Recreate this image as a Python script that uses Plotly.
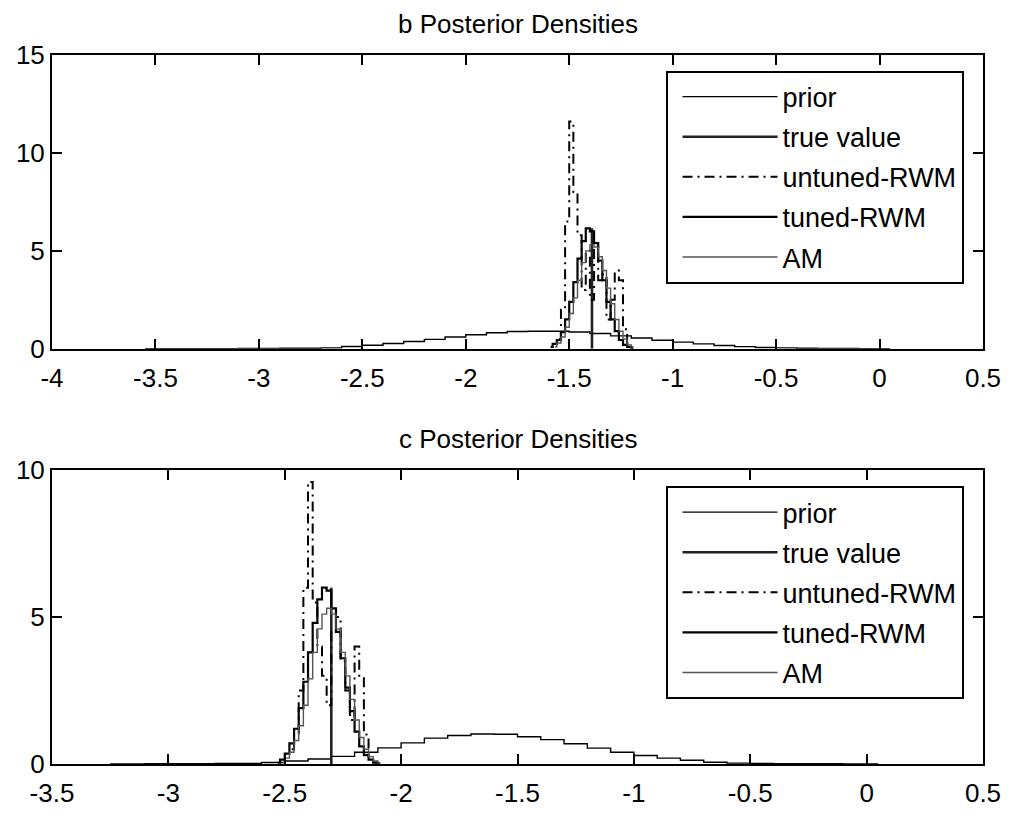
import plotly.graph_objects as go

# ---------------- data ----------------
# panel b
prior_b_x = [-3.55, -3.45, -3.35, -3.25, -3.15, -3.05, -2.95, -2.85, -2.75, -2.65,
             -2.55, -2.45, -2.35, -2.25, -2.15, -2.05, -1.95, -1.85, -1.75, -1.65,
             -1.55, -1.45, -1.35, -1.25, -1.15, -1.05, -0.95, -0.85, -0.75, -0.65,
             -0.55, -0.45, -0.35, -0.25, -0.15, -0.05, 0.05]
prior_b_y = [0.01, 0.01, 0.01, 0.01, 0.01, 0.02, 0.02, 0.03, 0.03, 0.05,
             0.12, 0.18, 0.27, 0.37, 0.48, 0.60, 0.72, 0.82, 0.88, 0.90,
             0.90, 0.86, 0.78, 0.66, 0.55, 0.44, 0.34, 0.25, 0.17, 0.11,
             0.07, 0.05, 0.03, 0.02, 0.02, 0.01, 0.01]
true_b = -1.39
true_b_height = 6.15
untuned_b_x = [-1.55, -1.53, -1.51, -1.49, -1.47, -1.45, -1.43, -1.41, -1.39,
               -1.37, -1.35, -1.33, -1.31, -1.29, -1.27, -1.25, -1.23, -1.21]
untuned_b_y = [0.5, 2.0, 6.5, 11.6, 8.0, 5.8, 3.0, 5.0, 2.5,
               5.2, 3.5, 3.8, 1.5, 2.5, 4.0, 3.5, 1.0, 0.3]
tuned_b_x = [-1.59, -1.57, -1.55, -1.53, -1.51, -1.49, -1.47, -1.45, -1.43, -1.41, -1.39,
             -1.37, -1.35, -1.33, -1.31, -1.29, -1.27, -1.25, -1.23, -1.21, -1.19]
tuned_b_y = [0.1, 0.25, 0.45, 0.85, 1.5, 2.4, 3.4, 4.6, 5.5, 6.15, 6.0,
             5.4, 4.5, 3.5, 2.4, 1.5, 0.9, 0.45, 0.2, 0.1, 0.05]
am_b_x = [-1.57, -1.55, -1.53, -1.51, -1.49, -1.47, -1.45, -1.43, -1.41, -1.39,
          -1.37, -1.35, -1.33, -1.31, -1.29, -1.27, -1.25, -1.23, -1.21, -1.19]
am_b_y = [0.1, 0.3, 0.6, 1.1, 1.8, 2.6, 3.5, 4.4, 5.0, 5.3,
          5.2, 4.7, 4.0, 3.1, 2.3, 1.5, 0.9, 0.5, 0.2, 0.1]

# panel c
prior_c_x = [-3.25, -3.15, -3.05, -2.95, -2.85, -2.75, -2.65, -2.55, -2.45, -2.35,
             -2.25, -2.15, -2.05, -1.95, -1.85, -1.75, -1.65, -1.55, -1.45, -1.35,
             -1.25, -1.15, -1.05, -0.95, -0.85, -0.75, -0.65, -0.55, -0.45, -0.35,
             -0.25, -0.15, -0.05, 0.05]
prior_c_y = [0.0, 0.0, 0.01, 0.01, 0.01, 0.02, 0.02, 0.05, 0.10, 0.17,
             0.26, 0.40, 0.55, 0.72, 0.88, 0.97, 1.02, 1.01, 0.93, 0.83,
             0.69, 0.54, 0.40, 0.29, 0.20, 0.13, 0.06, 0.03, 0.02, 0.01,
             0.01, 0.01, 0.0, 0.0]
true_c = -2.30
true_c_height = 6.0
untuned_c_x = [-2.47, -2.45, -2.43, -2.41, -2.39, -2.37, -2.35, -2.33, -2.31,
               -2.29, -2.27, -2.25, -2.23, -2.21, -2.19, -2.17, -2.15, -2.13]
untuned_c_y = [0.5, 1.0, 2.5, 6.0, 9.6, 5.5, 4.0, 3.0, 2.0,
               4.5, 5.0, 3.5, 2.5, 1.5, 4.0, 3.0, 1.0, 0.3]
tuned_c_x = [-2.53, -2.51, -2.49, -2.47, -2.45, -2.43, -2.41, -2.39, -2.37, -2.35, -2.33,
             -2.31, -2.29, -2.27, -2.25, -2.23, -2.21, -2.19, -2.17, -2.15, -2.13, -2.11, -2.09]
tuned_c_y = [0.05, 0.15, 0.35, 0.7, 1.2, 1.9, 2.8, 3.8, 4.8, 5.6, 6.0,
             5.9, 5.3, 4.5, 3.6, 2.6, 1.8, 1.1, 0.6, 0.3, 0.15, 0.05, 0.02]
am_c_x = [-2.51, -2.49, -2.47, -2.45, -2.43, -2.41, -2.39, -2.37, -2.35, -2.33, -2.31,
          -2.29, -2.27, -2.25, -2.23, -2.21, -2.19, -2.17, -2.15, -2.13, -2.11, -2.09]
am_c_y = [0.05, 0.2, 0.4, 0.8, 1.3, 2.0, 2.9, 3.8, 4.6, 5.1, 5.3,
          5.1, 4.6, 3.8, 3.0, 2.2, 1.5, 0.9, 0.5, 0.25, 0.1, 0.03]

# axes ticks
xticks_b = [-4, -3.5, -3, -2.5, -2, -1.5, -1, -0.5, 0, 0.5]
xlabels_b = ["-4", "-3.5", "-3", "-2.5", "-2", "-1.5", "-1", "-0.5", "0", "0.5"]
yticks_b = [0, 5, 10, 15]
xticks_c = [-3.5, -3, -2.5, -2, -1.5, -1, -0.5, 0, 0.5]
xlabels_c = ["-3.5", "-3", "-2.5", "-2", "-1.5", "-1", "-0.5", "0", "0.5"]
yticks_c = [0, 5, 10]
series_names = ["prior", "true value", "untuned-RWM", "tuned-RWM", "AM"]
titles = ["b Posterior Densities", "c Posterior Densities"]

FONT = "Liberation Sans, Arial, sans-serif"
FS = 26
LFS = 27

fig = go.Figure()


def add_panel(xa, ya, leg, prior_x, prior_y, tv, tvh, ux, uy, tx, ty, ax, ay):
    common = dict(xaxis=xa, yaxis=ya, legend=leg, mode="lines")
    fig.add_trace(go.Scatter(x=prior_x, y=prior_y, name=series_names[0], line_shape="hvh",
                             line=dict(color="black", width=1.4), legendgroup=leg + "a", **common))
    fig.add_trace(go.Scatter(x=[tv, tv], y=[0, tvh], name=series_names[1],
                             line=dict(color="#222222", width=2.6), legendgroup=leg + "b", **common))
    fig.add_trace(go.Scatter(x=ux, y=uy, name=series_names[2], line_shape="hvh",
                             line=dict(color="black", width=2, dash="10px,5px,2px,5px"),
                             legendgroup=leg + "c", **common))
    fig.add_trace(go.Scatter(x=tx, y=ty, name=series_names[3], line_shape="hvh",
                             line=dict(color="black", width=2.2), legendgroup=leg + "d", **common))
    fig.add_trace(go.Scatter(x=ax, y=ay, name=series_names[4], line_shape="hvh",
                             line=dict(color="#555555", width=1.4), legendgroup=leg + "e", **common))


add_panel("x", "y", "legend", prior_b_x, prior_b_y, true_b, true_b_height,
          untuned_b_x, untuned_b_y, tuned_b_x, tuned_b_y, am_b_x, am_b_y)
add_panel("x2", "y2", "legend2", prior_c_x, prior_c_y, true_c, true_c_height,
          untuned_c_x, untuned_c_y, tuned_c_x, tuned_c_y, am_c_x, am_c_y)

axis_common = dict(showline=True, linecolor="black", linewidth=2, mirror="ticks",
                   ticks="inside", ticklen=10, tickwidth=2, tickcolor="black",
                   showgrid=False, zeroline=False,
                   tickfont=dict(family=FONT, size=FS, color="black"))

top_dom = [0.5856, 1.0]
bot_dom = [0.0, 0.4144]

legend_common = dict(xanchor="left", yanchor="top", bgcolor="white",
                     bordercolor="black", borderwidth=2, itemwidth=95, tracegroupgap=2,
                     indentation=10, font=dict(family=FONT, size=LFS, color="black"))

fig.update_layout(
    width=1013, height=820,
    margin=dict(l=52, r=25, t=55, b=41),
    paper_bgcolor="white", plot_bgcolor="white",
    font=dict(family=FONT, size=FS, color="black"),
    xaxis=dict(domain=[0, 1], anchor="y", range=[-4, 0.5], tickvals=xticks_b,
               ticktext=xlabels_b, ticklabelstandoff=5, **axis_common),
    yaxis=dict(domain=top_dom, anchor="x", range=[0, 15], tickvals=yticks_b, **axis_common),
    xaxis2=dict(domain=[0, 1], anchor="y2", range=[-3.5, 0.5], tickvals=xticks_c,
                ticktext=xlabels_c, ticklabelstandoff=5, **axis_common),
    yaxis2=dict(domain=bot_dom, anchor="x2", range=[0, 10], tickvals=yticks_c, **axis_common),
    legend=dict(x=0.659, y=0.978, **legend_common),
    legend2=dict(x=0.659, y=0.392, **legend_common),
    annotations=[
        dict(text=titles[0], x=0.5, y=top_dom[1], xref="paper", yref="paper",
             xanchor="center", yanchor="bottom", yshift=14, showarrow=False,
             font=dict(family=FONT, size=FS, color="black")),
        dict(text=titles[1], x=0.5, y=bot_dom[1], xref="paper", yref="paper",
             xanchor="center", yanchor="bottom", yshift=14, showarrow=False,
             font=dict(family=FONT, size=FS, color="black")),
    ],
)

fig.write_html("out.html", config={"displayModeBar": False},
               post_script="document.body.style.margin='0';document.body.style.overflow='hidden';")
